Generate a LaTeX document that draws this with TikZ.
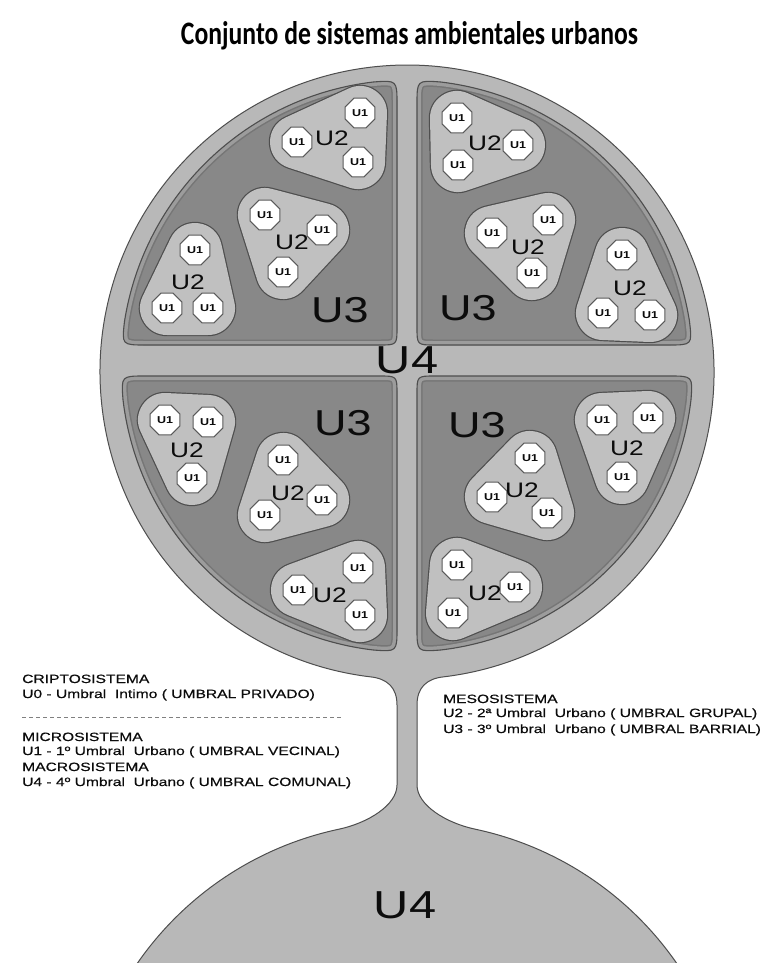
\documentclass[tikz,border=0pt]{standalone}
\usepackage{fontspec}
\setmainfont{Liberation Sans}
\newfontfamily\titlefont{Carlito}
\newfontfamily\legfont[FakeBold=0.35]{Liberation Sans}
\usepackage{graphicx}
\usetikzlibrary{shapes.geometric,calc}

\definecolor{ringgray}{RGB}{184,184,184}
\definecolor{darkfill}{RGB}{136,136,136}
\definecolor{rimdark}{RGB}{118,118,118}
\definecolor{rimgray}{RGB}{156,156,156}
\definecolor{blobgray}{RGB}{192,192,192}
\definecolor{linegray}{RGB}{78,78,78}
\definecolor{textgray}{RGB}{12,12,12}

% quadrant geometry
\newcommand\Qcx{407}
\newcommand\Qcy{-366}
\newcommand\Qr{286}
\newcommand\Qrc{24}
\newcommand\QrcB{18}
\newcommand\qsetup[4]{%
  \pgfmathsetmacro\Qxe{#1}%
  \pgfmathsetmacro\Qye{#2}%
  \pgfmathsetmacro\QyA{\Qcy + (#4)*\Qr*sqrt(1 - ((\Qxe-\Qcx)/\Qr)^2)}%
  \pgfmathsetmacro\QxD{\Qcx + (#3)*\Qr*sqrt(1 - ((\Qye-\Qcy)/\Qr)^2)}%
  \pgfmathsetmacro\QtA{atan2(\QyA-\Qcy, \Qxe-\Qcx)}%
  \pgfmathsetmacro\QtD{atan2(\Qye-\Qcy, \QxD-\Qcx)}%
  \pgfmathsetmacro\QtA{\QtA - 360*((\QtA-\QtD)>180) + 360*((\QtD-\QtA)>180)}%
  \pgfmathsetmacro\Qsg{sign(\QtA-\QtD)}%
  \pgfmathsetmacro\Qdd{\Qrc/\Qr*180/pi}%
  \pgfmathsetmacro\QtDs{\QtD + \Qsg*\Qdd}%
  \pgfmathsetmacro\QtAs{\QtA - \Qsg*\Qdd}%
  \pgfmathsetmacro\QsAy{\QyA - (#4)*\Qrc}%
  \pgfmathsetmacro\QBy{\Qye + (#4)*\QrcB}%
  \pgfmathsetmacro\QCx{\Qxe + (#3)*\QrcB}%
  \pgfmathsetmacro\QDx{\QxD - (#3)*\Qrc}%
  \pgfmathsetmacro\QEx{\Qcx + \Qr*cos(\QtDs)}%
  \pgfmathsetmacro\QEy{\Qcy + \Qr*sin(\QtDs)}%
}
\newcommand\qpath{(\Qxe,\QsAy) -- (\Qxe,\QBy) .. controls (\Qxe,\Qye) .. (\QCx,\Qye) -- (\QDx,\Qye) .. controls (\QxD,\Qye) .. (\QEx,\QEy) arc[start angle=\QtDs, end angle=\QtAs, radius=\Qr] .. controls (\Qxe,\QyA) .. (\Qxe,\QsAy) -- cycle}
\newcommand\uthree[4]{%
  \qsetup{#1}{#2}{#3}{#4}%
  \fill[darkfill] \qpath;
  \begin{scope}
    \clip \qpath;
    \draw[line width=11pt, rimdark] \qpath;
    \draw[line width=8pt, rimgray] \qpath;
  \end{scope}
  \draw[linegray, line width=1.1pt] \qpath;
}

% U2 group: hull of discs round the three U1
\newcommand\blob[5]{%
  \coordinate (#1pa) at #2;
  \coordinate (#1pb) at #3;
  \coordinate (#1pc) at #4;
  \filldraw[blobedge] (#1pa) -- (#1pb) -- (#1pc) -- cycle;
  \filldraw[blobfill] (#1pa) -- (#1pb) -- (#1pc) -- cycle;
  \node[uone] (#1a) at (#1pa) {\scalebox{1.25}[1]{U1}};
  \node[uone] (#1b) at (#1pb) {\scalebox{1.25}[1]{U1}};
  \node[uone] (#1c) at (#1pc) {\scalebox{1.25}[1]{U1}};
  \node[utwo] (#1l) at #5 {\scalebox{1.25}[1]{U2}};
}

\tikzset{
  blobedge/.style={fill=linegray, draw=linegray, line width=56.4pt, line join=round},
  blobfill/.style={fill=blobgray, draw=blobgray, line width=54pt, line join=round},
  uone/.style={regular polygon, regular polygon sides=8, minimum size=32pt, inner sep=0pt,
    fill=white, draw=gray!70!black, line width=1pt,
    font=\fontsize{10pt}{10pt}\selectfont\bfseries, text=textgray},
  utwo/.style={inner sep=0pt, font=\fontsize{21pt}{21pt}\selectfont, text=textgray},
  uthr/.style={inner sep=0pt, font=\fontsize{36pt}{36pt}\selectfont, text=textgray},
  ufour/.style={inner sep=0pt, font=\fontsize{39pt}{39pt}\selectfont, text=textgray},
  legend/.style={anchor=base west, inner sep=0pt, font=\legfont\fontsize{12pt}{12pt}\selectfont, text=textgray},
}

\begin{document}
\begin{tikzpicture}[x=1pt,y=1pt]
\useasboundingbox (0,0) rectangle (767,-963);
\fill[white] (0,0) rectangle (767,-963);

% title
\node[anchor=base, inner sep=0pt] (title) at (409.5,-45)
  {\resizebox{457pt}{23pt}{\titlefont\bfseries Conjunto de sistemas ambientales urbanos}};

% outer U4 shape
\path[fill=ringgray, draw=linegray, line width=1pt]
  (370,-676.8) .. controls (387.9,-678.6) and (397,-688) .. (397,-705)
  -- (397,-785) .. controls (397,-805) and (368.1,-823) .. (338.8,-829.2)
  arc[start angle=102, end angle=160, radius=328]
  -- ($(407,-1150)+(20:328)$)
  arc[start angle=20, end angle=78, radius=328]
  .. controls (445.9,-823) and (417,-805) .. (417,-785)
  -- (417,-705) .. controls (417,-688) and (426.1,-678.6) .. (444,-676.8)
  arc[start angle=-83.08, end angle=263.08, radius=307]
  -- cycle;

% U3 quadrants
\uthree{397}{-345}{-1}{1}
\uthree{417}{-345}{1}{1}
\uthree{397}{-376}{-1}{-1}
\uthree{417}{-376}{1}{-1}

% U2 groups
\blob{tla}{(360,-113)}{(297,-142)}{(358,-162)}{(332,-138)}
\blob{tlb}{(265,-215)}{(322,-230)}{(283,-272)}{(292,-242)}
\blob{tlc}{(195,-250)}{(167,-308)}{(208,-308)}{(188,-282)}
\blob{tra}{(457,-118)}{(458,-165)}{(518,-145)}{(485,-143)}
\blob{trb}{(548,-220)}{(492,-233)}{(532,-273)}{(528,-247)}
\blob{trc}{(622,-255)}{(603,-313)}{(650,-315)}{(630,-288)}
\blob{bla}{(165,-420)}{(208,-422)}{(192,-478)}{(187,-450)}
\blob{blb}{(283,-460)}{(322,-500)}{(265,-515)}{(288,-493)}
\blob{blc}{(358,-568)}{(298,-590)}{(360,-615)}{(330,-595)}
\blob{bra}{(602,-420)}{(648,-418)}{(622,-477)}{(627,-448)}
\blob{brb}{(530,-458)}{(492,-497)}{(547,-513)}{(522,-490)}
\blob{brc}{(457,-565)}{(453,-613)}{(515,-587)}{(485,-593)}

% U3 labels
\node[uthr] (u3tl) at (340,-310) {\scalebox{1.25}[1]{U3}};
\node[uthr] (u3tr) at (468,-308) {\scalebox{1.25}[1]{U3}};
\node[uthr] (u3bl) at (343,-423) {\scalebox{1.25}[1]{U3}};
\node[uthr] (u3br) at (477,-425) {\scalebox{1.25}[1]{U3}};

% U4 labels
\node[ufour] (u4top) at (407,-360) {\scalebox{1.25}[1]{U4}};
\node[ufour] (u4bot) at (405,-905) {\scalebox{1.25}[1]{U4}};

% legend left
\node[legend] (l1) at (22,-683) {\scalebox{1.3}[1]{CRIPTOSISTEMA}};
\node[legend] (l2) at (22,-698) {\scalebox{1.3}[1]{U0 - Umbral~~Intimo ( UMBRAL PRIVADO)}};
\coordinate (dashA) at (22,-717);
\coordinate (dashB) at (343,-717);
\draw[gray, line width=0.9pt, dash pattern=on 4pt off 3pt] (dashA) -- (dashB);
\node[legend] (l3) at (22,-741) {\scalebox{1.3}[1]{MICROSISTEMA}};
\node[legend] (l4) at (22,-755) {\scalebox{1.3}[1]{U1 - 1º Umbral~~Urbano ( UMBRAL VECINAL)}};
\node[legend] (l5) at (22,-771) {\scalebox{1.3}[1]{MACROSISTEMA}};
\node[legend] (l6) at (22,-786) {\scalebox{1.3}[1]{U4 - 4º Umbral~~Urbano ( UMBRAL COMUNAL)}};

% legend right
\node[legend] (r1) at (443,-703) {\scalebox{1.3}[1]{MESOSISTEMA}};
\node[legend] (r2) at (443,-717) {\scalebox{1.3}[1]{U2 - 2ª Umbral~~Urbano ( UMBRAL GRUPAL)}};
\node[legend] (r3) at (443,-733) {\scalebox{1.3}[1]{U3 - 3º Umbral~~Urbano ( UMBRAL BARRIAL)}};
\end{tikzpicture}
\end{document}
